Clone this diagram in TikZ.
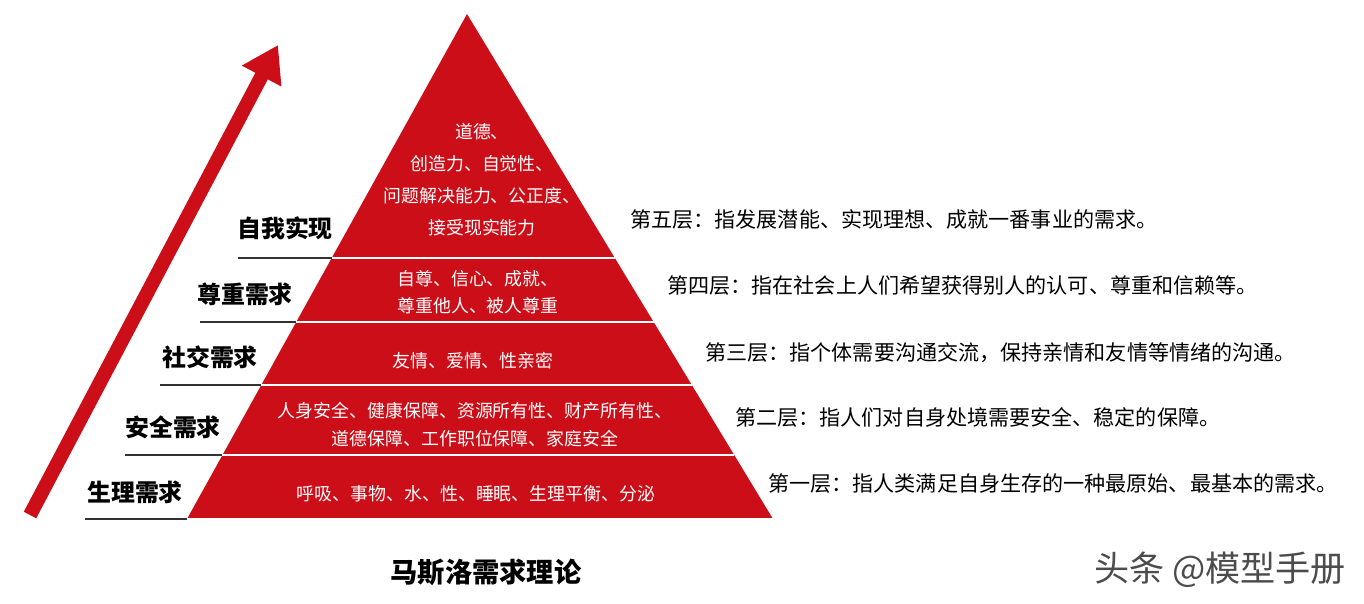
\documentclass[tikz,border=0pt]{standalone}
\usepackage{fontspec}
\setmainfont{Noto Sans CJK SC}
\usetikzlibrary{arrows.meta}
\definecolor{pr}{HTML}{CC0E18}
\begin{document}
\begin{tikzpicture}[x=0.02cm,y=-0.02cm,
 inner/.style={text=white,font=\fontsize{10.2}{14.5}\selectfont,align=center},
 lab/.style={font=\bfseries\fontsize{13.6}{15}\selectfont},
 desc/.style={font=\fontsize{12}{14}\selectfont,anchor=west,inner sep=0pt},
 sep/.style={line width=1pt,draw=black!80}]
\useasboundingbox (0,0) rectangle (1364,604);
\fill[pr] (467,14) coordinate (apex) -- (773,519) coordinate (br) -- (187,519) coordinate (bl) -- cycle;
\coordinate (a1) at (30,515); \coordinate (a2) at (278,45);
\draw[pr,line width=8pt,-{Triangle[length=20pt,width=24pt]}] (a1) -- (a2);
\foreach \y/\l in {258/238,322/200,385/160,455/125,519/85}{
  \pgfmathsetmacro\xl{467-(\y-14)/505*280}
  \pgfmathsetmacro\xr{467+(\y-14)/505*306}
  \draw[sep] (\l,\y) -- (\xl,\y);
  \draw[white,line width=1pt] (\xl,\y) -- (\xr,\y);
}
\node[lab] (l5) at (285,228) {自我实现};
\node[lab] (l4) at (245,294) {尊重需求};
\node[lab] (l3) at (210,357) {社交需求};
\node[lab] (l2) at (173,427) {安全需求};
\node[lab] (l1) at (135,492) {生理需求};
\node[inner,font=\fontsize{10.2}{18.2}\selectfont] (i5) at (482,180) {道德、\\创造力、自觉性、\\问题解决能力、公正度、\\接受现实能力};
\node[inner,font=\fontsize{10.2}{15.5}\selectfont] (i4) at (478,292) {自尊、信心、成就、\\尊重他人、被人尊重};
\node[inner] (i3) at (473,361) {友情、爱情、性亲密};
\node[inner,font=\fontsize{10.2}{16}\selectfont] (i2) at (475,425) {人身安全、健康保障、资源所有性、财产所有性、\\道德保障、工作职位保障、家庭安全};
\node[inner] (i1) at (476,494) {呼吸、事物、水、性、睡眠、生理平衡、分泌};
\node[desc] (d5) at (630,220) {第五层：指发展潜能、实现理想、成就一番事业的需求。};
\node[desc] (d4) at (667,286) {第四层：指在社会上人们希望获得别人的认可、尊重和信赖等。};
\node[desc] (d3) at (705,353) {第三层：指个体需要沟通交流，保持亲情和友情等情绪的沟通。};
\node[desc] (d2) at (735,417) {第二层：指人们对自身处境需要安全、稳定的保障。};
\node[desc] (d1) at (768,484) {第一层：指人类满足自身生存的一种最原始、最基本的需求。};
\node[lab,font=\bfseries\fontsize{15.5}{17}\selectfont] (t) at (486,572) {马斯洛需求理论};
\node[text=black!70,font=\fontsize{20}{22}\selectfont] (w) at (1220,570) {头条 @模型手册};
\end{tikzpicture}
\end{document}
